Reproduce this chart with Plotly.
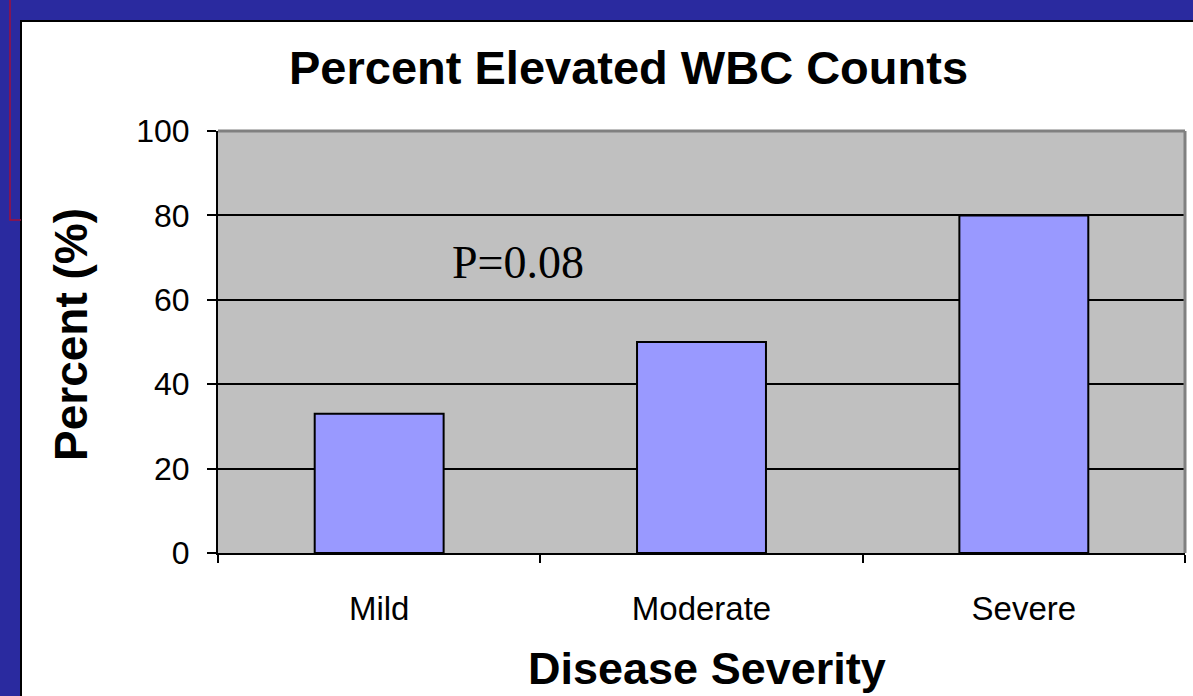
import plotly.graph_objects as go

categories = ["Mild", "Moderate", "Severe"]
percent_elevated = [33, 50, 80]
y_ticks = [0, 20, 40, 60, 80, 100]

W, H = 1193, 696
ML, MR, MT, MB = 218, 8, 131, 143
PW, PH = W - ML - MR, H - MT - MB

def px_x(p):
    return (p - ML) / PW

def px_y(p):
    return (H - MB - p) / PH

SANS = "Liberation Sans, Arial, sans-serif"

fig = go.Figure()
fig.add_trace(go.Bar(
    x=categories, y=percent_elevated,
    marker=dict(color="#9999ff", line=dict(color="black", width=2)),
    width=0.4,
))

shapes = [
    # white panel
    dict(type="rect", xref="paper", yref="paper", layer="below",
         x0=px_x(21), x1=px_x(1200), y0=px_y(21), y1=px_y(705),
         fillcolor="white", line=dict(color="black", width=2)),
    # red decoration line
    dict(type="path", xref="paper", yref="paper", layer="below",
         path=f"M {px_x(10)} {px_y(-2)} L {px_x(10)} {px_y(220)} L {px_x(21)} {px_y(220)}",
         line=dict(color="#a0103c", width=1.5)),
    # gray plot area background
    dict(type="rect", xref="x domain", yref="y domain", layer="below",
         x0=0, x1=1, y0=0, y1=1, fillcolor="#c0c0c0", line=dict(width=0)),
    # gray top and right borders of plot area
    dict(type="line", xref="x domain", yref="y domain", x0=0, x1=1, y0=1, y1=1,
         line=dict(color="#808080", width=3)),
    dict(type="line", xref="x domain", yref="y domain", x0=1, x1=1, y0=0, y1=1,
         line=dict(color="#808080", width=3)),
]

annotations = [
    dict(text="<b>Percent Elevated WBC Counts</b>", xref="paper", yref="paper",
         x=px_x(628), y=px_y(67), showarrow=False, xanchor="center", yanchor="middle",
         font=dict(family=SANS, size=47, color="black")),
    dict(text="<b>Percent (%)</b>", xref="paper", yref="paper", textangle=-90,
         x=px_x(71), y=px_y(335), showarrow=False, xanchor="center", yanchor="middle",
         font=dict(family=SANS, size=46, color="black")),
    dict(text="<b>Disease Severity</b>", xref="paper", yref="paper",
         x=px_x(707), y=px_y(668), showarrow=False, xanchor="center", yanchor="middle",
         font=dict(family=SANS, size=45, color="black")),
    dict(text="P=0.08", xref="paper", yref="paper",
         x=px_x(518), y=px_y(262), showarrow=False, xanchor="center", yanchor="middle",
         font=dict(family="Liberation Serif, Times New Roman, serif", size=46, color="black")),
]

fig.update_layout(
    width=W, height=H,
    margin=dict(l=ML, r=MR, t=MT, b=MB, pad=0),
    paper_bgcolor="#2a2a9f",
    plot_bgcolor="#c0c0c0",
    showlegend=False,
    shapes=shapes,
    annotations=annotations,
    bargap=0.6,
)
fig.update_xaxes(
    type="category", tickson="boundaries", ticks="outside", ticklen=8,
    tickwidth=2, tickcolor="black", showgrid=False,
    showline=True, linecolor="black", linewidth=2,
    tickfont=dict(family=SANS, size=33, color="black"),
    ticklabelstandoff=25,
)
fig.update_yaxes(
    range=[0, 100], tickvals=y_ticks, ticks="outside", ticklen=9, tickwidth=2,
    tickcolor="black", showgrid=True, gridcolor="black", gridwidth=2,
    showline=True, linecolor="black", linewidth=2, zeroline=False,
    tickfont=dict(family=SANS, size=32, color="black"),
    ticklabelstandoff=11,
)

fig.write_html("out.html", config={"displayModeBar": False},
               post_script="document.body.style.margin='0';document.body.style.overflow='hidden';")
